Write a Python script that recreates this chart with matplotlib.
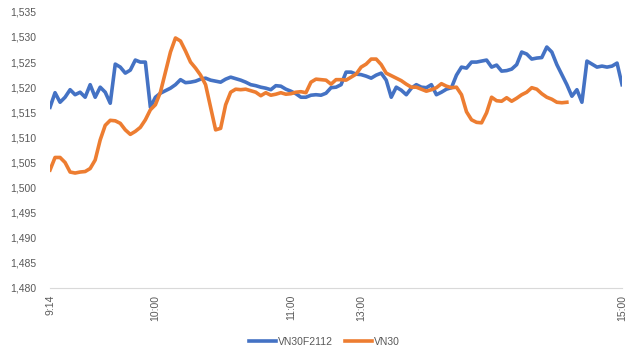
import numpy as np
import matplotlib
matplotlib.use('Agg')
import matplotlib.pyplot as plt
from matplotlib.ticker import FuncFormatter

plt.rcParams['font.family'] = ['Liberation Sans', 'DejaVu Sans']

# VN30F2112 futures price, sampled along the session
vn30f = [1516, 1518.9, 1517, 1518, 1519.5, 1518.5, 1519, 1518, 1520.5, 1518,
         1520, 1519, 1516.8, 1524.6, 1524, 1522.8, 1523.4, 1525.4, 1525, 1525,
         1516, 1518, 1518.8, 1519.3, 1519.8, 1520.5, 1521.5, 1520.9, 1521, 1521.2,
         1521.6, 1521.8, 1521.4, 1521.2, 1521, 1521.6, 1522, 1521.7, 1521.4, 1521,
         1520.5, 1520.3, 1520, 1519.8, 1519.5, 1520.3, 1520.2, 1519.6, 1519.2, 1518.7,
         1518, 1518, 1518.4, 1518.5, 1518.4, 1518.8, 1519.9, 1520, 1520.5, 1523,
         1523, 1522.6, 1522.5, 1522.2, 1521.8, 1522.4, 1522.8, 1521.4, 1518, 1520,
         1519.4, 1518.5, 1519.8, 1520.5, 1520, 1519.9, 1520.5, 1518.5, 1519, 1519.6,
         1519.9, 1522.4, 1524, 1523.8, 1525, 1525, 1525.2, 1525.4, 1524, 1524.4,
         1523.2, 1523.3, 1523.6, 1524.5, 1527, 1526.6, 1525.6, 1525.8, 1525.9, 1528,
         1527, 1524.5, 1522.5, 1520.5, 1518.2, 1519.5, 1517, 1525.2, 1524.6, 1524,
         1524.2, 1524, 1524.2, 1524.8, 1520.5]

# VN30 index (stops before the futures close)
vn30 = [1503.5, 1506, 1506, 1505, 1503.1, 1502.9, 1503.1, 1503.2, 1503.8, 1505.5,
        1509.5, 1512.4, 1513.4, 1513.3, 1512.8, 1511.5, 1510.6, 1511.2, 1512, 1513.5,
        1515.5, 1516.5, 1519, 1523, 1527, 1529.8, 1529.2, 1527.2, 1525, 1523.8,
        1522.4, 1520.5, 1516, 1511.5, 1511.8, 1516.5, 1519, 1519.6, 1519.5, 1519.6,
        1519.3, 1519, 1518.3, 1518.9, 1518.4, 1518.6, 1518.9, 1518.6, 1518.7, 1519,
        1519.1, 1518.9, 1521, 1521.6, 1521.5, 1521.4, 1520.6, 1521.5, 1521.5, 1521.4,
        1522, 1522.6, 1524, 1524.6, 1525.6, 1525.6, 1524.5, 1522.8, 1522.3, 1521.8,
        1521.3, 1520.6, 1520, 1520, 1519.6, 1519.2, 1519.5, 1519.9, 1520.7, 1520.2,
        1519.9, 1520, 1518.5, 1515.1, 1513.5, 1513, 1512.9, 1514.9, 1518, 1517.3,
        1517.2, 1517.9, 1517.2, 1517.8, 1518.5, 1519, 1519.9, 1519.6, 1518.7, 1518,
        1517.6, 1517, 1516.9, 1517]

tick_pos = [0, 21, 48, 62, 114]
tick_labels = ['9:14', '10:00', '11:00', '13:00', '15:00']

fig = plt.figure(figsize=(6.3, 3.6), dpi=100)
ax = fig.add_axes([0.0794, 0.2, 0.908, 0.767])

x1 = np.arange(len(vn30f))
x2 = np.arange(len(vn30))
ax.plot(x1, vn30f, color='#4472C4', lw=2.6, label='VN30F2112', solid_joinstyle='round')
ax.plot(x2, vn30, color='#ED7D31', lw=2.6, label='VN30', solid_joinstyle='round')

ax.set_xlim(0, len(vn30f) - 1)
ax.set_ylim(1480, 1535)
ax.set_yticks(np.arange(1480, 1536, 5))
ax.yaxis.set_major_formatter(FuncFormatter(lambda v, p: f'{int(v):,}'))
ax.set_xticks(tick_pos)
ax.set_xticklabels(tick_labels, rotation=90)

for s in ['top', 'right', 'left']:
    ax.spines[s].set_visible(False)
ax.spines['bottom'].set_color('#d9d9d9')
ax.tick_params(axis='both', length=0, labelsize=7.5, colors='#595959')
ax.tick_params(axis='y', pad=10)
ax.tick_params(axis='x', pad=5)

fig.legend(loc='lower center', bbox_to_anchor=(0.515, 0.01), ncol=2, frameon=False,
           fontsize=7.5, handlelength=2.6, handletextpad=0.2, columnspacing=1.1,
           labelcolor='#595959')

fig.savefig('out.png', dpi=100)
